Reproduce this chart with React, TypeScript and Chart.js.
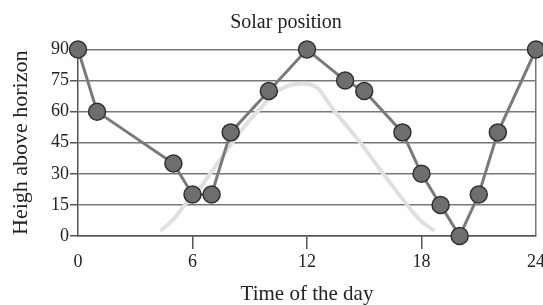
import React, { useEffect, useRef } from "react";
import { Chart, registerables } from "chart.js";

Chart.register(...registerables);

// Observed solar position (markers)
const hours: number[] = [0, 1, 5, 6, 7, 8, 10, 12, 14, 15, 17, 18, 19, 20, 21, 22, 24];
const heights: number[] = [90, 60, 35, 20, 20, 50, 70, 90, 75, 70, 50, 30, 15, 0, 20, 50, 90];

// Smooth reference curve (light grey)
const curveHours: number[] = [4.4, 5, 5.5, 6.2, 7, 8, 9, 9.6, 10.3, 11, 11.7, 12.2, 12.6, 13.3, 14, 14.8, 16, 17.25, 18, 18.6];
const curveHeights: number[] = [3, 8, 14, 21, 31, 44, 56, 62, 69, 72.5, 73.5, 73, 71, 62, 54, 45, 30, 15, 7, 3];

const xTicks: number[] = [0, 6, 12, 18, 24];
const yTicks: number[] = [0, 15, 30, 45, 60, 75, 90];

const FONT = "'Liberation Serif', 'Times New Roman', serif";

export default function App() {
  const ref = useRef<HTMLCanvasElement | null>(null);

  useEffect(() => {
    if (!ref.current) return;
    const chart = new Chart(ref.current, {
      type: "line",
      data: {
        datasets: [
          {
            data: hours.map((h, i) => ({ x: h, y: heights[i] })),
            borderColor: "#7a7a7a",
            borderWidth: 3,
            pointRadius: 8.5,
            pointBackgroundColor: "#6e6e6e",
            pointBorderColor: "#303030",
            pointBorderWidth: 1.5,
            tension: 0,
            clip: false as any,
          },
          {
            data: curveHours.map((h, i) => ({ x: h, y: curveHeights[i] })),
            borderColor: "#e0e0e0",
            borderWidth: 4,
            pointRadius: 0,
            tension: 0.4,
            borderCapStyle: "round",
          },
        ],
      },
      options: {
        animation: false,
        responsive: false,
        layout: { padding: { left: 25, right: 0, top: 0, bottom: 0 } },
        plugins: {
          legend: { display: false },
          tooltip: { enabled: false },
          title: {
            display: true,
            text: "Solar position",
            color: "#222",
            font: { family: FONT, size: 20, weight: "normal", lineHeight: 1.2 },
            padding: { top: 10.5, bottom: 15 },
          },
        },
        scales: {
          x: {
            type: "linear",
            min: 0,
            max: 24,
            afterBuildTicks: (s: any) => {
              s.ticks = xTicks.map((v) => ({ value: v }));
            },
            afterFit: (s: any) => {
              s.height = 69;
            },
            ticks: {
              color: "#222",
              font: { family: FONT, size: 18 },
              padding: 2,
              maxRotation: 0,
            },
            grid: {
              drawOnChartArea: true,
              tickLength: 13,
              lineWidth: 1.5,
              color: (ctx: any) => (ctx.tick && ctx.tick.value === 24 ? "#777" : "transparent"),
              tickColor: (ctx: any) =>
                ctx.tick && ctx.tick.value > 0 && ctx.tick.value < 24 ? "#555" : "transparent",
            },
            border: { display: true, color: "#555", width: 1.5 },
            title: {
              display: true,
              text: "Time of the day",
              color: "#222",
              font: { family: FONT, size: 21, lineHeight: 1 },
              padding: { top: 0, bottom: 0 },
            },
          },
          y: {
            type: "linear",
            min: 0,
            max: 90,
            afterBuildTicks: (s: any) => {
              s.ticks = yTicks.map((v) => ({ value: v }));
            },
            afterFit: (s: any) => {
              s.width = 53;
            },
            ticks: {
              color: "#222",
              font: { family: FONT, size: 18 },
              padding: 1,
            },
            grid: {
              color: "#777",
              lineWidth: 1.5,
              tickLength: 8,
              tickColor: "#555",
            },
            border: { display: true, color: "#555", width: 1.5 },
            title: {
              display: true,
              text: "Heigh above horizon",
              color: "#222",
              font: { family: FONT, size: 22, lineHeight: 1 },
              padding: { top: -15, bottom: 0 },
            },
          },
        },
      },
    });
    return () => chart.destroy();
  }, []);

  return (
    <div
      style={{
        position: "fixed",
        left: 0,
        top: 0,
        width: 543,
        height: 305,
        overflow: "hidden",
        background: "#fff",
      }}
    >
      <canvas ref={ref} width={547} height={305} style={{ display: "block" }} />
    </div>
  );
}
